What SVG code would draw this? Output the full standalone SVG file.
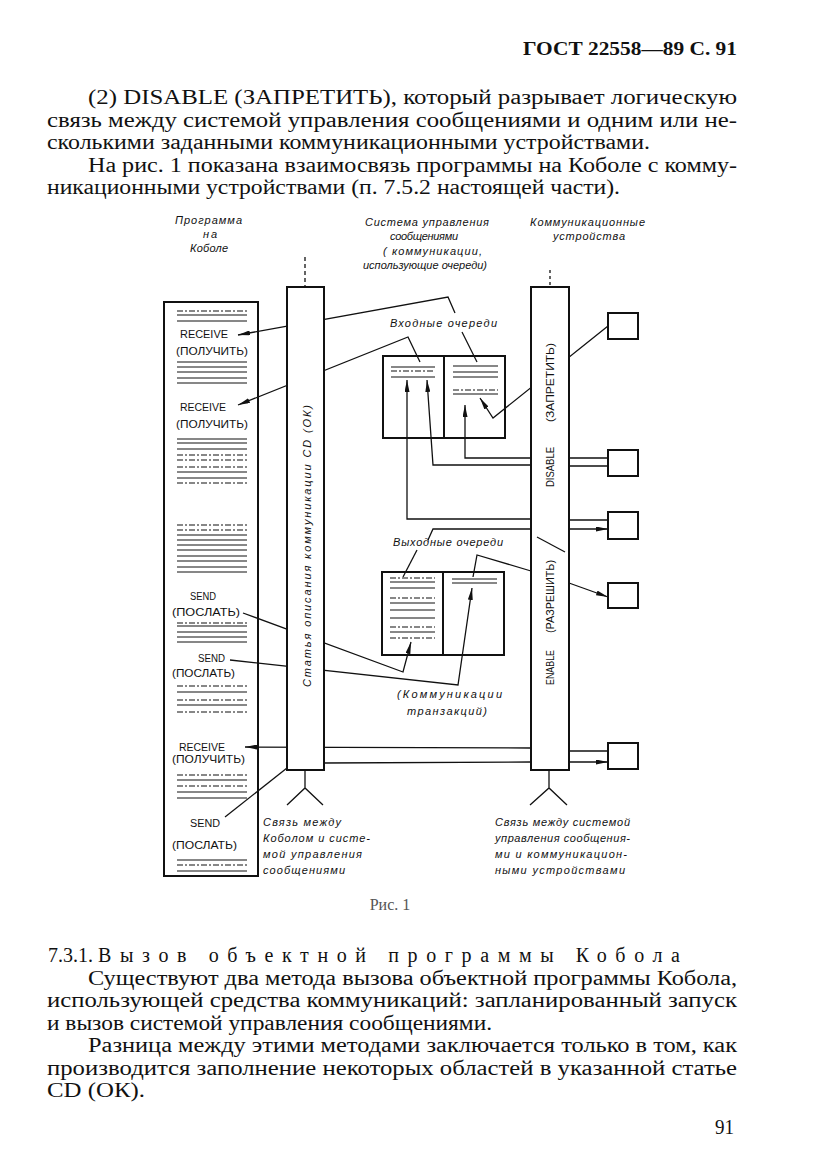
<svg xmlns="http://www.w3.org/2000/svg" width="827" height="1169" viewBox="0 0 827 1169">
<style>
.pg{font-family:"Liberation Serif","Times New Roman",serif;font-size:20px;fill:#111}
.hd{font-family:"Liberation Serif",serif;font-size:19px;font-weight:bold;fill:#111}
.lb{font-family:"Liberation Sans",Arial,sans-serif;font-size:11px;font-style:italic;fill:#111}
.bx{font-family:"Liberation Sans",Arial,sans-serif;font-size:10px;fill:#111}
.vt{font-family:"Liberation Sans",Arial,sans-serif;font-size:10.5px;fill:#111}
.ln{stroke:#111;stroke-width:1.3;fill:none}
.th{stroke:#111;stroke-width:2;fill:none}
.thw{stroke:#111;stroke-width:2;fill:#fff}
.rl{stroke:#111;stroke-width:1.2}
.dl{stroke:#111;stroke-width:1.2;stroke-dasharray:6,2,2,2}
</style>
<defs>
<marker id="ah" viewBox="0 0 12 5" refX="12" refY="2.5" markerWidth="12" markerHeight="5" orient="auto" markerUnits="userSpaceOnUse"><path d="M0,0 L12,2.5 L0,5 z" fill="#111"/></marker>
</defs>
<rect width="827" height="1169" fill="#fff"/>

<g id="page-text">
<text class="hd" x="523" y="55" textLength="214" lengthAdjust="spacingAndGlyphs">ГОСТ 22558—89  С. 91</text>
<text class="pg" x="88" y="104" textLength="649" lengthAdjust="spacingAndGlyphs">(2) DISABLE (ЗАПРЕТИТЬ), который разрывает логическую</text>
<text class="pg" x="47" y="127" textLength="690" lengthAdjust="spacingAndGlyphs">связь между системой  управления сообщениями и одним или не-</text>
<text class="pg" x="47" y="149" textLength="603" lengthAdjust="spacingAndGlyphs">сколькими заданными коммуникационными устройствами.</text>
<text class="pg" x="88" y="172" textLength="649" lengthAdjust="spacingAndGlyphs">На рис. 1 показана взаимосвязь программы на Коболе с комму-</text>
<text class="pg" x="47" y="194" textLength="573" lengthAdjust="spacingAndGlyphs">никационными устройствами (п. 7.5.2 настоящей части).</text>

<text class="pg" x="48" y="962" textLength="45" lengthAdjust="spacingAndGlyphs">7.3.1.</text>
<text class="pg" x="98" y="962" textLength="582" lengthAdjust="spacing">Вызов объектной программы Кобола</text>
<text class="pg" x="88" y="985" textLength="649" lengthAdjust="spacingAndGlyphs">Существуют два метода вызова объектной программы Кобола,</text>
<text class="pg" x="47" y="1007" textLength="690" lengthAdjust="spacingAndGlyphs">использующей средства коммуникаций:  запланированный запуск</text>
<text class="pg" x="47" y="1030" textLength="445" lengthAdjust="spacingAndGlyphs">и вызов системой  управления сообщениями.</text>
<text class="pg" x="88" y="1052" textLength="649" lengthAdjust="spacingAndGlyphs">Разница между этими методами заключается только в том, как</text>
<text class="pg" x="47" y="1075" textLength="690" lengthAdjust="spacingAndGlyphs">производится заполнение некоторых областей в указанной статье</text>
<text class="pg" x="47" y="1097" textLength="98" lengthAdjust="spacingAndGlyphs">CD (ОК).</text>
<text class="pg" x="715" y="1134" textLength="19" lengthAdjust="spacingAndGlyphs">91</text>
<text x="390" y="910" text-anchor="middle" style="font-family:'Liberation Serif',serif;font-size:16px;fill:#555">Рис. 1</text>
</g>

<g id="connectors">
<path class="ln" d="M455,313 L448,297 L238,335" marker-end="url(#ah)"/>
<path class="ln" d="M462,332 L477,362"/>
<path class="ln" d="M420,362 L408,337 L238,405" marker-end="url(#ah)"/>
<path class="ln" d="M531,519 L407,519 L407,380" marker-end="url(#ah)"/>
<path class="ln" d="M531,465 L433,465 L427,380" marker-end="url(#ah)"/>
<path class="ln" d="M531,458 L465,458 L465,405" marker-end="url(#ah)"/>
<path class="ln" d="M608,326 L493,418 L480,398" marker-end="url(#ah)"/>
<path class="ln" d="M569,458 L608,458 M569,466 L608,466"/>
<path class="ln" d="M569,520 L608,520"/>
<path class="ln" d="M569,529 L608,529" marker-end="url(#ah)"/>
<path class="ln" d="M428,540 L433,529 L531,529"/>
<path class="ln" d="M417,550 L403,577"/>
<path class="ln" d="M473,577 L477,555 L531,571"/>
<path class="ln" d="M569,583 L608,597" marker-end="url(#ah)"/>
<path class="ln" d="M243,613 L403,672 L411,642" marker-end="url(#ah)"/>
<path class="ln" d="M230,660 L458,685 L472,588" marker-end="url(#ah)"/>
<path class="ln" d="M531,748 L245,747" marker-end="url(#ah)"/>
<path class="ln" d="M569,751 L608,751"/>
<path class="ln" d="M324,763 L531,762"/>
<path class="ln" d="M569,762 L608,762" marker-end="url(#ah)"/>
<path class="ln" d="M225,817 L287,768"/>
<path class="ln" d="M305,770 L305,788 M287,805 L305,788 L323,805"/>
<path class="ln" d="M549,770 L549,788 M530,805 L549,788 L567,805"/>
<path class="ln" d="M305,257 L305,287" stroke-dasharray="4,3"/>
<path class="ln" d="M550,270 L550,287" stroke-dasharray="3,3"/>
</g>

<g id="program-box">
<rect class="th" x="164" y="302" width="94" height="574"/>
<g>
<line class="dl" x1="177" y1="311" x2="247" y2="311"/>
<line class="rl" x1="177" y1="315" x2="247" y2="315"/>
<line class="rl" x1="177" y1="321" x2="247" y2="321"/>
<line class="rl" x1="177" y1="362" x2="247" y2="362"/>
<line class="rl" x1="177" y1="367" x2="247" y2="367"/>
<line class="rl" x1="177" y1="372" x2="247" y2="372"/>
<line class="rl" x1="177" y1="378" x2="247" y2="378"/>
<line class="rl" x1="177" y1="383" x2="247" y2="383"/>
<line class="rl" x1="177" y1="439" x2="247" y2="439"/>
<line class="rl" x1="177" y1="443" x2="247" y2="443"/>
<line class="rl" x1="177" y1="449" x2="247" y2="449"/>
<line class="dl" x1="177" y1="455" x2="247" y2="455"/>
<line class="dl" x1="177" y1="460" x2="247" y2="460"/>
<line class="dl" x1="177" y1="467" x2="247" y2="467"/>
<line class="rl" x1="177" y1="472" x2="247" y2="472"/>
<line class="rl" x1="177" y1="478" x2="247" y2="478"/>
<line class="dl" x1="177" y1="483" x2="247" y2="483"/>
<line class="dl" x1="177" y1="525" x2="247" y2="525"/>
<line class="dl" x1="177" y1="530" x2="247" y2="530"/>
<line class="rl" x1="177" y1="535" x2="247" y2="535"/>
<line class="rl" x1="177" y1="540" x2="247" y2="540"/>
<line class="rl" x1="177" y1="545" x2="247" y2="545"/>
<line class="rl" x1="177" y1="550" x2="247" y2="550"/>
<line class="rl" x1="177" y1="556" x2="247" y2="556"/>
<line class="rl" x1="177" y1="561" x2="247" y2="561"/>
<line class="rl" x1="177" y1="567" x2="247" y2="567"/>
<line class="rl" x1="177" y1="572" x2="247" y2="572"/>
<line class="dl" x1="177" y1="623" x2="247" y2="623"/>
<line class="rl" x1="177" y1="626" x2="247" y2="626"/>
<line class="rl" x1="177" y1="632" x2="247" y2="632"/>
<line class="rl" x1="177" y1="637" x2="247" y2="637"/>
<line class="rl" x1="177" y1="642" x2="247" y2="642"/>
<line class="dl" x1="177" y1="686" x2="247" y2="686"/>
<line class="rl" x1="177" y1="692" x2="247" y2="692"/>
<line class="dl" x1="177" y1="700" x2="247" y2="700"/>
<line class="rl" x1="177" y1="705" x2="247" y2="705"/>
<line class="dl" x1="177" y1="712" x2="247" y2="712"/>
<line class="dl" x1="177" y1="775" x2="247" y2="775"/>
<line class="rl" x1="177" y1="780" x2="247" y2="780"/>
<line class="dl" x1="177" y1="786" x2="247" y2="786"/>
<line class="rl" x1="177" y1="792" x2="247" y2="792"/>
<line class="rl" x1="177" y1="798" x2="247" y2="798"/>
<line class="rl" x1="177" y1="860" x2="247" y2="860"/>
<line class="dl" x1="177" y1="865" x2="247" y2="865"/>
<line class="rl" x1="177" y1="871" x2="247" y2="871"/>
</g>
<text class="bx" x="180" y="338" textLength="48" lengthAdjust="spacingAndGlyphs">RECEIVE</text>
<text class="bx" x="176" y="355" textLength="72" lengthAdjust="spacingAndGlyphs">(ПОЛУЧИТЬ)</text>
<text class="bx" x="180" y="411" textLength="46" lengthAdjust="spacingAndGlyphs">RECEIVE</text>
<text class="bx" x="176" y="428" textLength="72" lengthAdjust="spacingAndGlyphs">(ПОЛУЧИТЬ)</text>
<text class="bx" x="190" y="600" textLength="26" lengthAdjust="spacingAndGlyphs">SEND</text>
<text class="bx" x="172" y="616" textLength="68" lengthAdjust="spacingAndGlyphs">(ПОСЛАТЬ)</text>
<text class="bx" x="198" y="662" textLength="27" lengthAdjust="spacingAndGlyphs">SEND</text>
<text class="bx" x="172" y="677" textLength="63" lengthAdjust="spacingAndGlyphs">(ПОСЛАТЬ)</text>
<text class="bx" x="179" y="751" textLength="46" lengthAdjust="spacingAndGlyphs">RECEIVE</text>
<text class="bx" x="172" y="763" textLength="73" lengthAdjust="spacingAndGlyphs">(ПОЛУЧИТЬ)</text>
<text class="bx" x="190" y="827" textLength="30" lengthAdjust="spacingAndGlyphs">SEND</text>
<text class="bx" x="172" y="849" textLength="65" lengthAdjust="spacingAndGlyphs">(ПОСЛАТЬ)</text>
</g>

<g id="cd-column">
<rect class="thw" x="287" y="287" width="37" height="483"/>
<text class="lb" transform="translate(311,546) rotate(-90)" text-anchor="middle" textLength="282" lengthAdjust="spacing">Статья описания коммуникации CD (ОК)</text>
</g>

<g id="interface-column">
<rect class="thw" x="531" y="287" width="38" height="483"/>
<line class="rl" x1="537" y1="537" x2="565" y2="552"/>
<text class="vt" transform="translate(554,382.5) rotate(-90)" text-anchor="middle" textLength="79" lengthAdjust="spacingAndGlyphs">(ЗАПРЕТИТЬ)</text>
<text class="vt" transform="translate(554,467) rotate(-90)" text-anchor="middle" textLength="40" lengthAdjust="spacingAndGlyphs">DISABLE</text>
<text class="vt" transform="translate(554,596.5) rotate(-90)" text-anchor="middle" textLength="73" lengthAdjust="spacingAndGlyphs">(РАЗРЕШИТЬ)</text>
<text class="vt" transform="translate(554,667.5) rotate(-90)" text-anchor="middle" textLength="35" lengthAdjust="spacingAndGlyphs">ENABLE</text>
</g>

<g id="input-queues">
<rect class="th" x="383" y="356" width="122" height="82"/>
<line class="th" x1="444" y1="356" x2="444" y2="438"/>
<line class="rl" x1="391" y1="367" x2="435" y2="367"/>
<line class="dl" x1="391" y1="371" x2="435" y2="371"/>
<line class="rl" x1="391" y1="377" x2="435" y2="377"/>
<line class="rl" x1="453" y1="366" x2="498" y2="366"/>
<line class="rl" x1="453" y1="372" x2="498" y2="372"/>
<line class="rl" x1="453" y1="377" x2="498" y2="377"/>
<line class="dl" x1="453" y1="390" x2="498" y2="390"/>
<line class="rl" x1="453" y1="394" x2="498" y2="394"/>
<text class="lb" x="390" y="327" textLength="107" lengthAdjust="spacing">Входные очереди</text>
</g>

<g id="output-queues">
<rect class="th" x="382" y="572" width="122" height="83"/>
<line class="th" x1="443" y1="572" x2="443" y2="655"/>
<line class="dl" x1="390" y1="578" x2="435" y2="578"/>
<line class="rl" x1="390" y1="582" x2="435" y2="582"/>
<line class="rl" x1="390" y1="588" x2="435" y2="588"/>
<line class="dl" x1="390" y1="598" x2="435" y2="598"/>
<line class="rl" x1="390" y1="603" x2="435" y2="603"/>
<line class="rl" x1="390" y1="610" x2="435" y2="610"/>
<line class="rl" x1="390" y1="618" x2="435" y2="618"/>
<line class="dl" x1="390" y1="627" x2="435" y2="627"/>
<line class="rl" x1="390" y1="632" x2="435" y2="632"/>
<line class="dl" x1="390" y1="638" x2="435" y2="638"/>
<line class="rl" x1="452" y1="579" x2="497" y2="579"/>
<line class="rl" x1="452" y1="583" x2="497" y2="583"/>
<text class="lb" x="393" y="546" textLength="110" lengthAdjust="spacing">Выходные очереди</text>
<text class="lb" x="397" y="698" textLength="105" lengthAdjust="spacing">(Коммуникации</text>
<text class="lb" x="407" y="715" textLength="80" lengthAdjust="spacing">транзакций)</text>
</g>

<g id="device-1"><rect class="thw" x="608" y="313" width="30" height="26"/></g>
<g id="device-2"><rect class="thw" x="608" y="450" width="30" height="26"/></g>
<g id="device-3"><rect class="thw" x="608" y="512" width="30" height="27"/></g>
<g id="device-4"><rect class="thw" x="608" y="583" width="30" height="25"/></g>
<g id="device-5"><rect class="thw" x="608" y="743" width="30" height="26"/></g>

<g id="labels">
<text class="lb" x="175" y="224" textLength="67" lengthAdjust="spacing">Программа</text>
<text class="lb" x="203" y="238" textLength="14" lengthAdjust="spacing">на</text>
<text class="lb" x="190" y="252" textLength="38" lengthAdjust="spacing">Коболе</text>
<text class="lb" x="365" y="226" textLength="124" lengthAdjust="spacing">Система управления</text>
<text class="lb" x="390" y="240" textLength="68" lengthAdjust="spacing">сообщениями</text>
<text class="lb" x="383" y="255" textLength="99" lengthAdjust="spacing">( коммуникации,</text>
<text class="lb" x="363" y="269" textLength="124" lengthAdjust="spacing">использующие очереди)</text>
<text class="lb" x="530" y="226" textLength="115" lengthAdjust="spacing">Коммуникационные</text>
<text class="lb" x="553" y="240" textLength="72" lengthAdjust="spacing">устройства</text>
<text class="lb" x="263" y="826" textLength="78" lengthAdjust="spacing">Связь между</text>
<text class="lb" x="263" y="842" textLength="107" lengthAdjust="spacing">Коболом и систе-</text>
<text class="lb" x="263" y="858" textLength="99" lengthAdjust="spacing">мой управления</text>
<text class="lb" x="263" y="874" textLength="82" lengthAdjust="spacing">сообщениями</text>
<text class="lb" x="495" y="826" textLength="135" lengthAdjust="spacing">Связь между системой</text>
<text class="lb" x="495" y="842" textLength="135" lengthAdjust="spacing">управления сообщения-</text>
<text class="lb" x="495" y="858" textLength="132" lengthAdjust="spacing">ми и коммуникацион-</text>
<text class="lb" x="495" y="874" textLength="130" lengthAdjust="spacing">ными устройствами</text>
</g>
</svg>
